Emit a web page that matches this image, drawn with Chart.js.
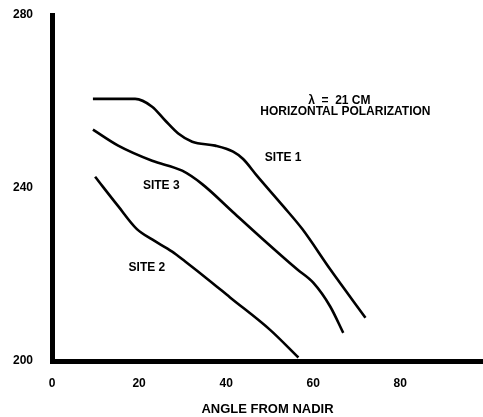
<!DOCTYPE html>
<html>
<head>
<meta charset="utf-8">
<script src="https://cdn.jsdelivr.net/npm/chart.js@4.4.1/dist/chart.umd.min.js"></script>
<style>
  html, body { margin: 0; padding: 0; background: #fff; }
  #wrap { width: 483px; height: 417px; position: relative; }
</style>
</head>
<body>
<div id="wrap"><canvas id="c" width="483" height="417"></canvas></div>
<script>
// ---- data ----
const xTickValues = [0, 20, 40, 60, 80];
const yTickValues = [200, 240, 280];
const xAxisTitle = "ANGLE FROM NADIR";

const site1X = [9.4, 19.1, 23.0, 26.0, 29.0, 32.2, 37.5, 41.6, 43.9, 47.1, 53.1, 57.5, 63.9, 72.0];
const site1Y = [260.6, 260.6, 258.8, 255.6, 252.6, 250.7, 249.8, 248.4, 246.7, 242.8, 235.8, 230.5, 221.2, 210.0];

const site3X = [9.4, 15.2, 23.0, 29.9, 34.5, 41.6, 48.5, 56.3, 60.0, 63.9, 66.9];
const site3Y = [253.5, 249.8, 246.3, 244.0, 240.9, 234.4, 228.1, 221.2, 218.1, 212.6, 206.5];

const site2X = [9.9, 15.2, 19.5, 23.0, 27.6, 30.6, 35.9, 40.9, 50.1, 56.6];
const site2Y = [242.6, 235.8, 230.5, 228.1, 225.3, 223.0, 218.8, 214.7, 207.2, 200.8];

const seriesNames = ["SITE 1", "SITE 3", "SITE 2"];
const noteLines = ["\u03BB  =  21 CM", "HORIZONTAL POLARIZATION"];

function pts(xs, ys) { return xs.map((x, i) => ({ x: x, y: ys[i] })); }

const FONT = "'Liberation Sans', Arial, sans-serif";

// annotation text placed in data coordinates through the scales
const labelPlugin = {
  id: 'labels',
  afterDatasetsDraw(chart) {
    const { ctx, scales: { x, y } } = chart;
    ctx.save();
    ctx.fillStyle = '#000';
    ctx.textAlign = 'center';
    ctx.textBaseline = 'middle';
    ctx.font = "bold 12px " + FONT;
    const spots = [[53.1, 247.0], [25.1, 240.5], [21.8, 221.6]];
    seriesNames.forEach((n, i) => {
      ctx.fillText(n, x.getPixelForValue(spots[i][0]), y.getPixelForValue(spots[i][1]));
    });
    ctx.font = "bold 12px " + FONT;
    ctx.fillText(noteLines[0], x.getPixelForValue(66.0), y.getPixelForValue(260.2));
    ctx.fillText(noteLines[1], x.getPixelForValue(67.4), y.getPixelForValue(257.6));
    ctx.restore();
  }
};

const lineStyle = {
  showLine: true,
  borderColor: '#000',
  borderWidth: 2.6,
  pointRadius: 0,
  fill: false,
  tension: 0.4,
  cubicInterpolationMode: 'monotone',
  clip: false
};

new Chart(document.getElementById('c'), {
  type: 'scatter',
  data: {
    datasets: [
      Object.assign({ label: seriesNames[0], data: pts(site1X, site1Y) }, lineStyle),
      Object.assign({ label: seriesNames[1], data: pts(site3X, site3Y) }, lineStyle),
      Object.assign({ label: seriesNames[2], data: pts(site2X, site2Y) }, lineStyle)
    ]
  },
  options: {
    responsive: false,
    animation: false,
    devicePixelRatio: 1,
    layout: { padding: { top: 15, right: 0, bottom: 0, left: 0 } },
    plugins: { legend: { display: false }, tooltip: { enabled: false } },
    scales: {
      x: {
        type: 'linear',
        min: 0, max: 99,
        afterBuildTicks(s) { s.ticks = xTickValues.map(v => ({ value: v })); },
        afterFit(s) { s.height = 56; s.paddingLeft = 0; s.paddingRight = 0; },
        grid: { display: false, drawTicks: false },
        border: { display: true, color: '#000', width: 5 },
        ticks: {
          color: '#000', padding: 15, maxRotation: 0,
          font: { family: FONT, size: 12, weight: 'bold' }
        },
        title: {
          display: true, text: xAxisTitle, color: '#000',
          font: { family: FONT, size: 13, weight: 'bold' },
          padding: { top: 0, bottom: 0 }
        }
      },
      y: {
        type: 'linear',
        min: 200, max: 280,
        afterBuildTicks(s) { s.ticks = yTickValues.map(v => ({ value: v })); },
        afterFit(s) { s.width = 52; s.paddingTop = 0; s.paddingBottom = 0; },
        grid: { display: false, drawTicks: false },
        border: { display: true, color: '#000', width: 5 },
        ticks: {
          color: '#000', padding: 19,
          font: { family: FONT, size: 12, weight: 'bold' }
        }
      }
    }
  },
  plugins: [labelPlugin]
});
</script>
</body>
</html>
